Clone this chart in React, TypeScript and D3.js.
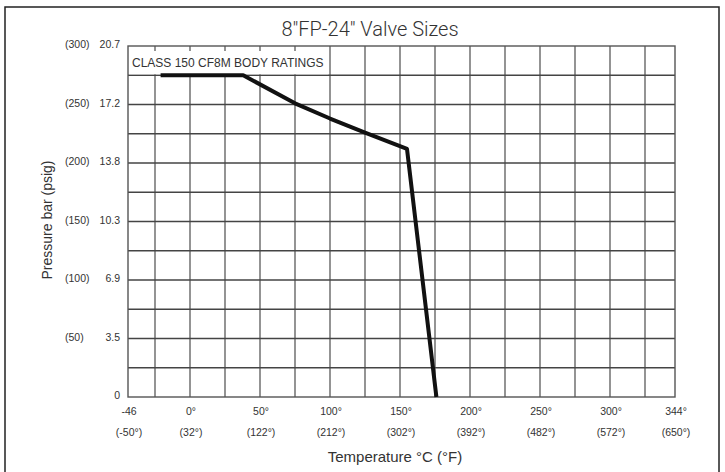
import React, { useEffect, useRef } from "react";
import * as d3 from "d3";

// axis ticks
const tempTicksC = [-46, 0, 50, 100, 150, 200, 250, 300, 344];
const tempTickLabelsC = ["-46", "0°", "50°", "100°", "150°", "200°", "250°", "300°", "344°"];
const tempTickLabelsF = ["(-50°)", "(32°)", "(122°)", "(212°)", "(302°)", "(392°)", "(482°)", "(572°)", "(650°)"];
const pressureTicksPsig = [300, 250, 200, 150, 100, 50, 0];
const pressureLabelsPsig = ["(300)", "(250)", "(200)", "(150)", "(100)", "(50)", ""];
const pressureLabelsBar = ["20.7", "17.2", "13.8", "10.3", "6.9", "3.5", "0"];

// grid lines
const gridTemps = [-25, 0, 25, 50, 75, 100, 125, 150, 175, 200, 225, 250, 275, 300, 325];
const gridPsig = [25, 50, 75, 100, 125, 150, 175, 200, 225, 250, 275];

// rating curve (°C, psig)
const curveTemp = [-21, 38, 75, 100, 125, 155, 176];
const curvePsig = [275, 275, 251, 238, 226, 212, 0];

export default function App() {
  const svgRef = useRef<SVGSVGElement>(null);

  useEffect(() => {
    document.body.style.margin = "0";
    if (!svgRef.current) return;
    d3.select(svgRef.current).selectAll("*").remove();

    const W = 725, H = 472;
    const left = 128, right = 675, top = 46, bottom = 397;
    const font = "'Liberation Sans', Arial, sans-serif";

    const svg = d3.select(svgRef.current).attr("width", W).attr("height", H);

    svg.append("rect").attr("width", W).attr("height", H).attr("fill", "#fff");
    // outer frame
    svg.append("rect").attr("x", 5).attr("y", 7).attr("width", 714).attr("height", 480)
      .attr("fill", "none").attr("stroke", "#222").attr("stroke-width", 1.5);

    // chart edges are a bit wider than the 25° grid spacing
    const x = d3.scaleLinear().domain([-46, -25, 325, 344]).range([left, 155, 645, right]);
    const y = d3.scaleLinear().domain([0, 300]).range([bottom, top]);

    const g = svg.append("g");

    // grid
    g.selectAll(".vg").data(gridTemps).join("line")
      .attr("x1", d => x(d)).attr("x2", d => x(d)).attr("y1", top).attr("y2", bottom)
      .attr("stroke", "#5a5a5a").attr("stroke-width", 1.3);
    g.selectAll(".hg").data(gridPsig).join("line")
      .attr("x1", left).attr("x2", right).attr("y1", d => y(d)).attr("y2", d => y(d))
      .attr("stroke", "#444").attr("stroke-width", 1.3);
    g.append("rect").attr("x", left).attr("y", top).attr("width", right - left).attr("height", bottom - top)
      .attr("fill", "none").attr("stroke", "#555").attr("stroke-width", 1.4);

    // label box in the top row
    g.append("rect").attr("x", left + 1).attr("y", top + 5).attr("width", 199).attr("height", y(275) - top - 6)
      .attr("fill", "#fff");
    g.append("text").attr("x", left + 4).attr("y", top + 21)
      .style("font-family", font).style("font-size", "12px").attr("fill", "#333")
      .text("CLASS 150 CF8M BODY RATINGS");

    // curve
    const pts = curveTemp.map((t, i) => [t, curvePsig[i]] as [number, number]);
    const line = d3.line<[number, number]>().x(d => x(d[0])).y(d => y(d[1]));
    g.append("path").datum(pts).attr("d", line).attr("fill", "none")
      .attr("stroke", "#111").attr("stroke-width", 4).attr("stroke-linejoin", "round");

    // x tick labels
    const xl = svg.append("g").style("font-family", font).style("font-size", "10.5px").attr("fill", "#333")
      .attr("text-anchor", "middle");
    tempTicksC.forEach((t, i) => {
      xl.append("text").attr("x", x(t) + 1).attr("y", bottom + 18).text(tempTickLabelsC[i]);
      xl.append("text").attr("x", x(t) + 1).attr("y", bottom + 39).text(tempTickLabelsF[i]);
    });

    // y tick labels
    const yl = svg.append("g").style("font-family", font).style("font-size", "10.5px").attr("fill", "#333");
    pressureTicksPsig.forEach((p, i) => {
      yl.append("text").attr("x", 65).attr("y", y(p) + 2).text(pressureLabelsPsig[i]);
      yl.append("text").attr("x", 120).attr("y", y(p) + 2).attr("text-anchor", "end").text(pressureLabelsBar[i]);
    });

    // titles
    svg.append("text").attr("x", 370).attr("y", 36).attr("text-anchor", "middle")
      .style("font-family", "Roboto, sans-serif").style("font-weight", "300").style("font-size", "20px")
      .attr("fill", "#333").text("8\u2033FP-24\u2033 Valve Sizes");
    svg.append("text").attr("x", 395).attr("y", 462).attr("text-anchor", "middle")
      .style("font-family", font).style("font-size", "15px").attr("fill", "#333")
      .text("Temperature °C (°F)");
    svg.append("text").attr("transform", "translate(52,220) rotate(-90)").attr("text-anchor", "middle")
      .style("font-family", font).style("font-size", "14px").attr("fill", "#333")
      .text("Pressure bar (psig)");
  }, []);

  return <svg ref={svgRef} style={{ display: "block" }}></svg>;
}
